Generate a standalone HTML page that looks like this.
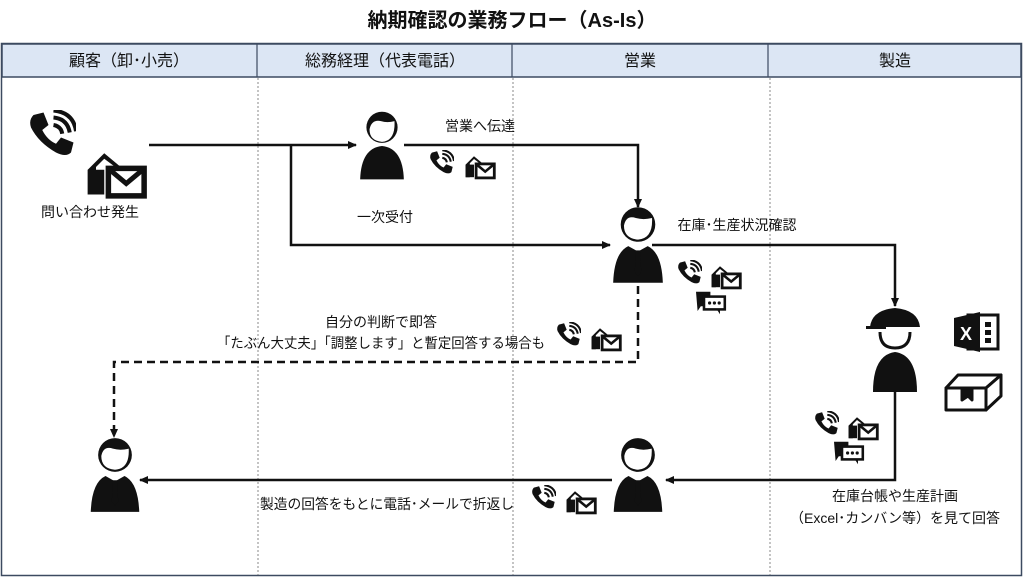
<!DOCTYPE html>
<html><head><meta charset="utf-8"><style>
html,body{margin:0;padding:0;background:#fff}
svg{display:block}
text{font-family:"Liberation Sans","Noto Sans CJK JP",sans-serif;fill:#111}
</style></head><body>
<svg width="1024" height="578" viewBox="0 0 1024 578" xmlns="http://www.w3.org/2000/svg">
<defs>
<marker id="ar" markerWidth="10" markerHeight="10" refX="8" refY="5" orient="auto" markerUnits="userSpaceOnUse">
<path d="M0,1 L9,5 L0,9 Z" fill="#111"/></marker>
<symbol id="phone" viewBox="0 0 20 20">
<path d="M3,2 L7,1 L9,6 L6.5,8 Q8.5,12 12,13.5 L14,11 L19,13 L18,17 Q16,19 12,17 Q5,13 2,7 Q1,4 3,2Z" fill="#111"/>
<path d="M11,6 Q14,6.5 14.5,9.5 M11,3 Q16.5,3.5 17.5,9 M11,0.2 Q19,1 20,8.5" stroke="#111" stroke-width="1.6" fill="none"/>
</symbol>
<symbol id="mail" viewBox="0 0 22 20">
<path d="M0,9 L6,3 L12,8 L10,8 L6,5 L3,8 L3,18 L0,18Z" fill="#111"/>
<rect x="0" y="9" width="6" height="9" fill="#111"/>
<rect x="7.5" y="8.5" width="13" height="10" fill="#fff" stroke="#111" stroke-width="2"/>
<path d="M8,9 L14,14 L20,9" stroke="#111" stroke-width="1.8" fill="none"/>
</symbol>
<symbol id="chat" viewBox="0 0 20 16">
<path d="M0,1 L9,1 L9,10 L3,10 L1,13Z" fill="#111"/>
<rect x="5" y="4" width="13" height="8" fill="#fff" stroke="#111" stroke-width="1.6"/>
<path d="M13,12 L15,15 L15,12" fill="#111"/>
<circle cx="8.5" cy="8" r="1" fill="#111"/><circle cx="11.5" cy="8" r="1" fill="#111"/><circle cx="14.5" cy="8" r="1" fill="#111"/>
</symbol>
<symbol id="person" viewBox="0 0 50 70">
<circle cx="25" cy="18" r="15" fill="#111"/>
<path d="M13,20 Q15,10 24,12 Q30,14 37,12 Q38,31 25,32 Q13,31 13,20Z" fill="#fff"/>
<path d="M4,68 Q5,38 25,36 Q45,38 46,68Z" fill="#111"/>
</symbol>
<symbol id="suit" viewBox="0 0 50 74">
<circle cx="25" cy="18" r="16" fill="#111"/>
<path d="M12,19 Q14,9 23,12 Q30,14 38,12 Q39,31 25,32 Q12,31 12,19Z" fill="#fff"/>
<path d="M2,72 Q3,44 16,38 L25,43 L34,38 Q47,44 48,72Z" fill="#111"/>
<path d="M18,37 L25,43 L32,37 Z" fill="#fff"/>
<path d="M23,42 L27,42 L28,62 L25,66 L22,62Z" fill="#111"/>
</symbol>
</defs>

<text x="512" y="27" text-anchor="middle" font-size="20" font-weight="bold">納期確認の業務フロー（As-Is）</text>

<rect x="1.5" y="43.5" width="1020" height="532" fill="#fff" stroke="#3c4a60" stroke-width="1.5"/>
<rect x="2" y="44" width="1019" height="33" fill="#dce6f4" stroke="#3c4a60" stroke-width="1.5"/>
<g stroke="#3c4a60" stroke-width="1.2"><line x1="257" y1="44" x2="257" y2="77"/><line x1="512" y1="44" x2="512" y2="77"/><line x1="768" y1="44" x2="768" y2="77"/></g>
<g stroke="#888" stroke-width="1" stroke-dasharray="2,2"><line x1="258" y1="78" x2="258" y2="575"/><line x1="513" y1="78" x2="513" y2="575"/><line x1="770" y1="78" x2="770" y2="575"/></g>
<g font-size="16" text-anchor="middle"><text x="129" y="66">顧客（卸･小売）</text><text x="385" y="66">総務経理（代表電話）</text><text x="640" y="66">営業</text><text x="895" y="66">製造</text></g>

<g stroke="#111" stroke-width="2.5" fill="none">
<line x1="149" y1="145" x2="356" y2="145" marker-end="url(#ar)"/>
<polyline points="291,145 291,245 610,245" marker-end="url(#ar)"/>
<polyline points="404,145 638,145 638,207" marker-end="url(#ar)"/>
<polyline points="652,245 895,245 895,306" marker-end="url(#ar)"/>
<polyline points="895,392 895,480 666,480" marker-end="url(#ar)"/>
<line x1="612" y1="480" x2="140" y2="480" marker-end="url(#ar)"/>
<polyline points="638,286 638,362 114,362 114,437" stroke-dasharray="8,5" marker-end="url(#ar)"/>
</g>

<use href="#phone" x="26" y="110" width="50" height="50"/>
<use href="#mail" x="87" y="145" width="62" height="55"/>
<text x="90" y="217" font-size="14" text-anchor="middle">問い合わせ発生</text>

<use href="#person" x="356" y="108" width="52" height="74"/>
<text x="385" y="222" font-size="14" text-anchor="middle">一次受付</text>
<text x="480" y="131" font-size="14" text-anchor="middle">営業へ伝達</text>
<use href="#phone" x="428" y="150" width="26" height="26"/>
<use href="#mail" x="465" y="152" width="32" height="28"/>

<use href="#suit" x="611" y="204" width="54" height="82"/>
<text x="737" y="230" font-size="14" text-anchor="middle">在庫･生産状況確認</text>
<use href="#phone" x="676" y="260" width="26" height="26"/>
<use href="#mail" x="711" y="262" width="32" height="28"/>
<use href="#chat" x="696" y="290" width="32" height="26"/>

<g>
<path d="M870,327 Q872,310 895,308 Q918,310 920,327Z" fill="#111"/>
<rect x="866" y="326" width="20" height="3" fill="#111"/>
<path d="M880,332 Q880,348 895,348 Q910,348 910,332" stroke="#111" stroke-width="3" fill="none"/>
<path d="M873,392 Q873,355 895,352 Q917,355 917,392Z" fill="#111"/>
</g>
<g>
<rect x="968" y="315" width="30" height="34" fill="#fff" stroke="#111" stroke-width="3"/>
<path d="M954,318 L980,312 L980,352 L954,346Z" fill="#111"/>
<text x="960" y="340" font-size="18" font-weight="bold" style="fill:#fff">X</text>
<rect x="985" y="322" width="6" height="5" fill="#111"/><rect x="985" y="330" width="6" height="5" fill="#111"/><rect x="985" y="338" width="6" height="5" fill="#111"/>
</g>
<g stroke="#111" stroke-width="3" fill="#fff" stroke-linejoin="round">
<path d="M946,388 L986,388 L986,410 L946,410Z"/>
<path d="M946,388 L958,375 L1001,375 L986,388Z"/>
<path d="M986,388 L1001,375 L1001,396 L986,410Z"/>
<path d="M962,388 L962,400 L968,396 L972,400 L972,388" fill="#111"/>
</g>
<use href="#phone" x="813" y="411" width="26" height="26"/>
<use href="#mail" x="848" y="413" width="32" height="28"/>
<use href="#chat" x="834" y="440" width="32" height="26"/>
<text x="895" y="501" font-size="14" text-anchor="middle">在庫台帳や生産計画</text>
<text x="895" y="523" font-size="14" text-anchor="middle">（Excel･カンバン等）を見て回答</text>

<text x="381" y="327" font-size="14" text-anchor="middle">自分の判断で即答</text>
<text x="381" y="348" font-size="14" text-anchor="middle" textLength="328" lengthAdjust="spacingAndGlyphs">「たぶん大丈夫」「調整します」と暫定回答する場合も</text>
<use href="#phone" x="555" y="322" width="26" height="26"/>
<use href="#mail" x="591" y="324" width="32" height="28"/>

<use href="#suit" x="88" y="436" width="54" height="78"/>
<use href="#suit" x="611" y="436" width="54" height="78"/>
<text x="387" y="509" font-size="14" text-anchor="middle" textLength="254" lengthAdjust="spacingAndGlyphs">製造の回答をもとに電話･メールで折返し</text>
<use href="#phone" x="530" y="485" width="26" height="26"/>
<use href="#mail" x="566" y="487" width="32" height="28"/>
</svg>
</body></html>
